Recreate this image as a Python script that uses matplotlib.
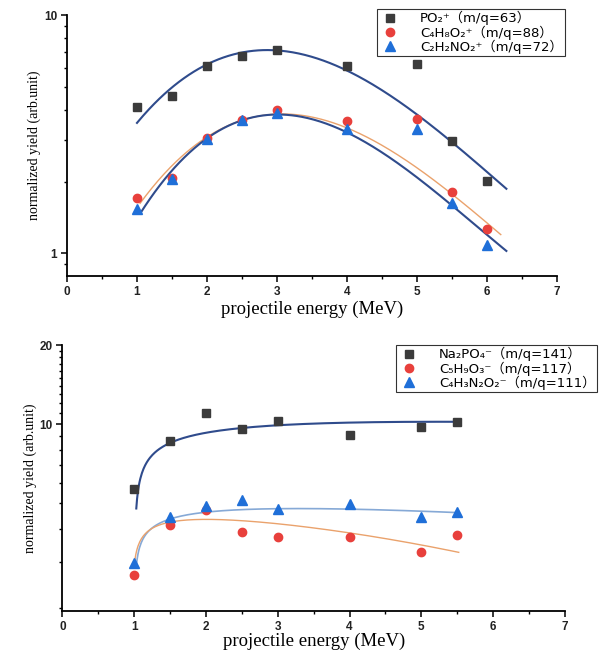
import numpy as np
import matplotlib
matplotlib.use("Agg")
import matplotlib.pyplot as plt
from matplotlib.ticker import FixedLocator, NullFormatter

# ---- measured points ----
energy_top = [1, 1.5, 2, 2.5, 3, 4, 5, 5.5, 6]
po2 = [4.12, 4.58, 6.09, 6.73, 7.13, 6.09, 6.22, 2.97, 2.01]
c4h8o2 = [1.70, 2.08, 3.04, 3.64, 3.99, 3.59, 3.66, 1.80, 1.27]
c2h2no2 = [1.54, 2.05, 3.01, 3.62, 3.87, 3.32, 3.32, 1.62, 1.08]

energy_bot = [1, 1.5, 2, 2.5, 3, 4, 5, 5.5]
na2po4 = [5.66, 8.61, 11.07, 9.57, 10.3, 9.08, 9.74, 10.2]
c5h9o3 = [2.67, 4.14, 4.72, 3.90, 3.74, 3.74, 3.28, 3.79]
c4h3n2o2 = [2.98, 4.43, 4.89, 5.15, 4.77, 4.99, 4.43, 4.65]

# ---- fit curves, values ----
fit_po2_x = [1.0, 1.5, 2, 2.5, 2.75, 3, 4, 5, 5.5, 6.28]
fit_po2_y = [3.66, 4.67, 6.08, 7.14, 7.31, 7.23, 5.70, 3.81, 2.94, 1.87]
fit_c4h8o2_x = [1.045, 1.5, 2, 2.5, 3, 4, 5, 5.5, 6, 6.2]
fit_c4h8o2_y = [1.67, 2.20, 3.09, 3.69, 3.96, 3.24, 2.28, 1.79, 1.38, 1.17]
fit_c2h2no2_x = [1.045, 1.5, 2, 2.5, 2.9, 3, 4, 5, 5.5, 6, 6.28]
fit_c2h2no2_y = [1.51, 2.11, 3.04, 3.63, 3.93, 3.90, 3.09, 2.07, 1.62, 1.21, 1.01]

fit_na2po4_x = [1.03, 1.1, 1.25, 1.5, 2, 2.5, 3, 4, 5, 5.5]
fit_na2po4_y = [5.03, 6.32, 7.31, 8.22, 9.38, 9.91, 10.14, 10.23, 10.17, 10.05]
fit_c4h3n2o2_x = [1.03, 1.1, 1.25, 1.5, 2, 3, 4, 5, 5.5]
fit_c4h3n2o2_y = [2.96, 3.43, 4.03, 4.40, 4.66, 4.77, 4.76, 4.67, 4.61]
fit_c5h9o3_x = [1.0, 1.1, 1.25, 1.5, 2, 2.5, 3, 4, 5, 5.52]
fit_c5h9o3_y = [2.81, 3.74, 4.09, 4.27, 4.33, 4.27, 4.14, 3.79, 3.48, 3.33]

labels_top = ["PO\u2082\u207a\uff08m/q=63\uff09",
              "C\u2084H\u2088O\u2082\u207a\uff08m/q=88\uff09",
              "C\u2082H\u2082NO\u2082\u207a\uff08m/q=72\uff09"]
labels_bot = ["Na\u2082PO\u2084\u207b\uff08m/q=141\uff09",
              "C\u2085H\u2089O\u2083\u207b\uff08m/q=117\uff09",
              "C\u2084H\u2083N\u2082O\u2082\u207b\uff08m/q=111\uff09"]

SQ = "#3b3b3b"
RED = "#e8403c"
BLUE = "#1f6fd8"
NAVY = "#2f4b8c"
ORANGE = "#eaa26c"
LBLUE = "#86a9d6"


def smooth_log(xk, yk, x0, x1):
    # cubic in log10(y) through the read-off points
    c = np.polyfit(xk, np.log10(yk), 3)
    xs = np.linspace(x0, x1, 300)
    return xs, 10 ** np.polyval(c, xs)


def smooth_sat(xk, yk, xoff, x0, x1):
    # y = a + b*ln(x - xoff) + c*x, least squares on the read-off points
    xk = np.asarray(xk)
    A = np.column_stack([np.ones_like(xk), np.log(xk - xoff), xk])
    coef, *_ = np.linalg.lstsq(A, np.asarray(yk), rcond=None)
    xs = np.linspace(x0, x1, 400)
    return xs, coef[0] + coef[1] * np.log(xs - xoff) + coef[2] * xs


def style_axes(ax, xpad):
    ax.spines["top"].set_visible(False)
    ax.spines["right"].set_visible(False)
    ax.spines["left"].set_linewidth(1.3)
    ax.spines["bottom"].set_linewidth(1.3)
    ax.set_xlim(0, 7)
    ax.xaxis.set_major_locator(FixedLocator(range(8)))
    ax.xaxis.set_minor_locator(FixedLocator(np.arange(0.5, 7, 1.0)))
    ax.tick_params(which="major", length=4, width=1.1, labelsize=8.5, pad=3)
    ax.tick_params(which="minor", length=2.5, width=1.0)
    for lab in ax.get_xticklabels() + ax.get_yticklabels():
        lab.set_family("Liberation Sans")
        lab.set_fontweight("bold")
        lab.set_color("#222222")
    ax.set_xlabel("projectile energy (MeV)", family="Liberation Serif", fontsize=13.5, labelpad=xpad)
    ax.set_ylabel("normalized yield (arb.unit)", family="Liberation Serif", fontsize=10, labelpad=2)


fig = plt.figure(figsize=(6.11, 6.54), dpi=100)
ax1 = fig.add_axes([0.1097, 0.578, 0.8015, 0.399])
ax2 = fig.add_axes([0.102, 0.0657, 0.8227, 0.4067])

legend_font = {"family": ["DejaVu Sans", "Noto Sans CJK JP"], "size": 9.5}
legend_kw = dict(loc="upper left", bbox_transform=fig.transFigure, prop=legend_font,
                 frameon=True, fancybox=False, edgecolor="black", borderpad=0.15,
                 labelspacing=0.0, handletextpad=1.5, handlelength=1.6, borderaxespad=0)

# ---- top panel ----
ax1.set_yscale("log")
ax1.set_ylim(0.803, 10)
xs, ys = smooth_log(fit_po2_x, fit_po2_y, 1.0, 6.28)
ax1.plot(xs, ys, color=NAVY, lw=1.5)
xs, ys = smooth_log(fit_c4h8o2_x, fit_c4h8o2_y, 1.045, 6.2)
ax1.plot(xs, ys, color=ORANGE, lw=1.0)
xs, ys = smooth_log(fit_c2h2no2_x, fit_c2h2no2_y, 1.045, 6.28)
ax1.plot(xs, ys, color=NAVY, lw=1.5)
ax1.plot(energy_top, po2, "s", color=SQ, ms=6, label=labels_top[0])
ax1.plot(energy_top, c4h8o2, "o", color=RED, ms=6, label=labels_top[1])
ax1.plot(energy_top, c2h2no2, "^", color=BLUE, ms=7, label=labels_top[2])
ax1.yaxis.set_major_locator(FixedLocator([1, 10]))
ax1.yaxis.set_minor_locator(FixedLocator([0.9, 2, 3, 4, 5, 6, 7, 8, 9]))
ax1.yaxis.set_minor_formatter(NullFormatter())
ax1.set_yticklabels(["1", "10"])
style_axes(ax1, 2)
leg1 = ax1.legend(bbox_to_anchor=(377 / 611, 1 - 9 / 654), **legend_kw)

# ---- bottom panel ----
ax2.set_yscale("log")
ax2.set_ylim(1.95, 20)
xs, ys = smooth_sat(fit_na2po4_x, fit_na2po4_y, 1.0, 1.03, 5.5)
ax2.plot(xs, ys, color=NAVY, lw=1.5)
xs, ys = smooth_sat(fit_c4h3n2o2_x, fit_c4h3n2o2_y, 1.0, 1.03, 5.5)
ax2.plot(xs, ys, color=LBLUE, lw=1.2)
xs, ys = smooth_sat(fit_c5h9o3_x, fit_c5h9o3_y, 0.97, 1.0, 5.52)
ax2.plot(xs, ys, color=ORANGE, lw=1.0)
ax2.plot(energy_bot, na2po4, "s", color=SQ, ms=6, label=labels_bot[0])
ax2.plot(energy_bot, c5h9o3, "o", color=RED, ms=6, label=labels_bot[1])
ax2.plot(energy_bot, c4h3n2o2, "^", color=BLUE, ms=7, label=labels_bot[2])
ax2.yaxis.set_major_locator(FixedLocator([10, 20]))
ax2.yaxis.set_minor_locator(FixedLocator([2, 3, 4, 5, 6, 7, 8, 9, 11, 12, 13, 14, 15, 16, 17, 18, 19]))
ax2.yaxis.set_minor_formatter(NullFormatter())
ax2.set_yticklabels(["10", "20"])
style_axes(ax2, 0)
leg2 = ax2.legend(bbox_to_anchor=(396 / 611, 1 - 345 / 654), **legend_kw)

for leg in (leg1, leg2):
    leg.get_frame().set_linewidth(0.8)

fig.savefig("out.png", dpi=100)
